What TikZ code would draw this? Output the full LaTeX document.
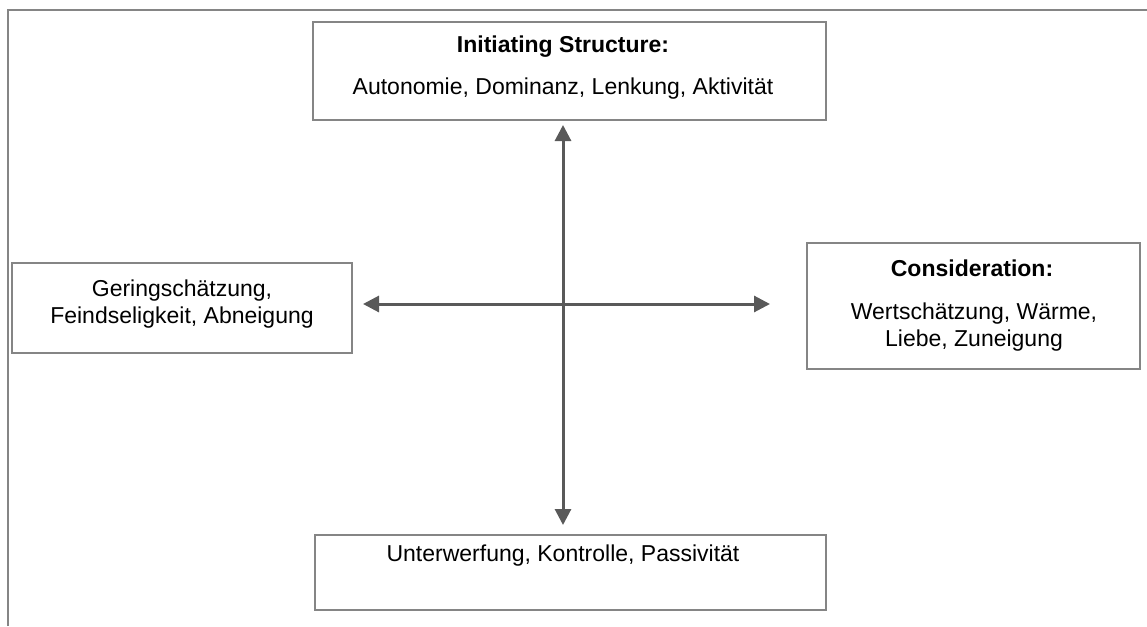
\documentclass[tikz,border=0pt]{standalone}
\usepackage{fontspec}
\setmainfont{Liberation Sans}
\usetikzlibrary{arrows.meta}
\begin{document}
\begin{tikzpicture}[x=1pt,y=-1pt,
  box/.style={draw=boxgray,line width=2pt,fill=white},
  txt/.style={font=\fontsize{23}{27.5}\selectfont,text=black,align=center},
  btxt/.style={font=\fontsize{23}{27.5}\selectfont\bfseries,text=black,align=center},
  axis/.style={draw=arrowgray,line width=3pt,{Triangle[length=16pt,width=16pt]}-{Triangle[length=16pt,width=16pt]}}]
\definecolor{boxgray}{HTML}{858585}
\definecolor{arrowgray}{HTML}{595959}
\useasboundingbox (0,0) rectangle (1147,626);
% outer frame lines
\draw[boxgray,line width=2.5pt] (8,626) -- (8,10) -- (1147,10);
% boxes
\draw[box] (313,22) rectangle (826,120);
\draw[box] (12,263) rectangle (352,353);
\draw[box] (807,243) rectangle (1140,369);
\draw[box] (315,535) rectangle (826,610);
% texts
\node[btxt] (ist) at (563,47) {Initiating Structure:};
\node[txt] (ist2) at (563,89) {Autonomie, Dominanz, Lenkung, Aktivität};
\node[txt] (left) at (182,304) {Geringschätzung,\\Feindseligkeit, Abneigung};
\node[btxt] (cons) at (972,268) {Consideration:};
\node[txt] (cons2) at (974,327) {Wertschätzung, Wärme,\\Liebe, Zuneigung};
\node[txt] (bot) at (563,556) {Unterwerfung, Kontrolle, Passivität};
% axes
\coordinate (vt) at (563,125);
\coordinate (vb) at (563,525);
\coordinate (hl) at (363,304);
\coordinate (hr) at (770,304);
\draw[axis] (vt) -- (vb);
\draw[axis] (hl) -- (hr);
\end{tikzpicture}
\end{document}
